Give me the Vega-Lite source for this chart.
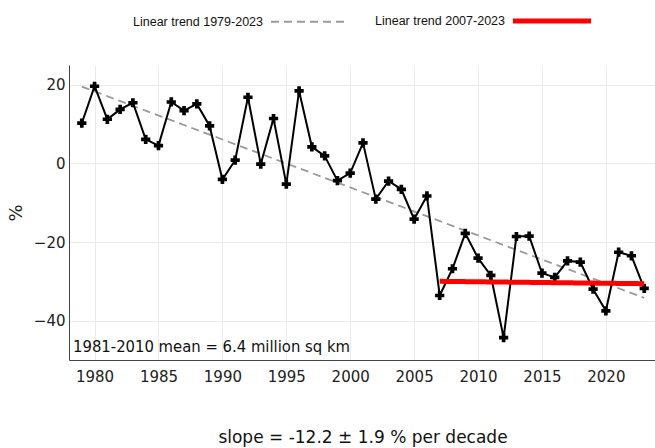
{
  "$schema": "https://vega.github.io/schema/vega-lite/v6.json",
  "width": 588,
  "height": 295,
  "autosize": {"type": "none"},
  "padding": {"left": 69, "top": 65, "right": 0, "bottom": 88},
  "background": "white",
  "config": {"view": {"stroke": null}, "font": "DejaVu Sans"},
  "title": {"text": "slope = -12.2 ± 1.9 % per decade", "orient": "bottom", "anchor": "middle", "font": "DejaVu Sans", "fontSize": 17, "fontWeight": "normal", "color": "#111", "offset": 46},
  "datasets": {
    "ice": [
      {"year": 1979, "value": 10.2}, {"year": 1980, "value": 19.6}, {"year": 1981, "value": 11.2},
      {"year": 1982, "value": 13.7}, {"year": 1983, "value": 15.4}, {"year": 1984, "value": 6.1},
      {"year": 1985, "value": 4.5}, {"year": 1986, "value": 15.6}, {"year": 1987, "value": 13.4},
      {"year": 1988, "value": 15.1}, {"year": 1989, "value": 9.5}, {"year": 1990, "value": -4.1},
      {"year": 1991, "value": 0.8}, {"year": 1992, "value": 16.8}, {"year": 1993, "value": -0.2},
      {"year": 1994, "value": 11.4}, {"year": 1995, "value": -5.3}, {"year": 1996, "value": 18.4},
      {"year": 1997, "value": 4.2}, {"year": 1998, "value": 1.9}, {"year": 1999, "value": -4.4},
      {"year": 2000, "value": -2.5}, {"year": 2001, "value": 5.2}, {"year": 2002, "value": -9.1},
      {"year": 2003, "value": -4.5}, {"year": 2004, "value": -6.6}, {"year": 2005, "value": -14.2},
      {"year": 2006, "value": -8.3}, {"year": 2007, "value": -33.6}, {"year": 2008, "value": -26.8},
      {"year": 2009, "value": -17.8}, {"year": 2010, "value": -24.1}, {"year": 2011, "value": -28.5},
      {"year": 2012, "value": -44.3}, {"year": 2013, "value": -18.6}, {"year": 2014, "value": -18.5},
      {"year": 2015, "value": -27.9}, {"year": 2016, "value": -29.0}, {"year": 2017, "value": -24.8},
      {"year": 2018, "value": -25.1}, {"year": 2019, "value": -32.0}, {"year": 2020, "value": -37.5},
      {"year": 2021, "value": -22.6}, {"year": 2022, "value": -23.5}, {"year": 2023, "value": -31.8}
    ],
    "trends": [
      {"trend": "Linear trend 1979-2023", "year": 1979, "value": 19.5},
      {"trend": "Linear trend 1979-2023", "year": 2023, "value": -34.2},
      {"trend": "Linear trend 2007-2023", "year": 2007, "value": -30.0},
      {"trend": "Linear trend 2007-2023", "year": 2023, "value": -30.6}
    ],
    "note": [
      {"label": "1981-2010 mean = 6.4 million sq km", "year": 1978, "value": -50}
    ]
  },
  "encoding": {
    "x": {
      "field": "year", "type": "quantitative",
      "scale": {"domain": [1978, 2024], "nice": false, "zero": false},
      "axis": {"title": null, "values": [1980, 1985, 1990, 1995, 2000, 2005, 2010, 2015, 2020], "format": "d",
               "grid": true, "gridColor": "#ebebeb", "domainColor": "#444", "ticks": false,
               "labelFont": "DejaVu Sans", "labelFontSize": 15, "labelColor": "#222", "labelPadding": 9}
    },
    "y": {
      "field": "value", "type": "quantitative",
      "scale": {"domain": [-50, 25], "nice": false, "zero": false},
      "axis": {"title": "%", "values": [-40, -20, 0, 20],
               "grid": true, "gridColor": "#ebebeb", "domainColor": "#444", "ticks": false,
               "labelFont": "DejaVu Sans", "labelFontSize": 15, "labelColor": "#222", "labelPadding": 4,
               "titleFont": "DejaVu Sans", "titleFontSize": 18, "titleFontWeight": "normal", "titleColor": "#222", "titlePadding": 8}
    }
  },
  "layer": [
    {
      "data": {"name": "trends"},
      "transform": [{"filter": "datum.trend == 'Linear trend 1979-2023'"}],
      "mark": {"type": "line"},
      "encoding": {
        "color": {"field": "trend", "type": "nominal",
                  "scale": {"domain": ["Linear trend 1979-2023", "Linear trend 2007-2023"], "range": ["#9a9a9a", "#ff0000"]},
                  "legend": {"title": null, "orient": "none", "legendX": 199, "legendY": -86, "direction": "horizontal", "columns": 2,
                             "symbolType": "stroke", "symbolSize": 6100, "labelAlign": "right", "labelOffset": -89,
                             "labelFont": "Liberation Sans", "labelFontSize": 12.5, "labelColor": "#111", "columnPadding": 22}},
        "strokeDash": {"field": "trend", "type": "nominal",
                       "scale": {"domain": ["Linear trend 1979-2023", "Linear trend 2007-2023"], "range": [[8, 5], [1, 0]]}},
        "strokeWidth": {"field": "trend", "type": "ordinal",
                        "scale": {"domain": ["Linear trend 1979-2023", "Linear trend 2007-2023"], "range": [1.8, 5]}}
      }
    },
    {
      "data": {"name": "ice"},
      "mark": {"type": "line", "color": "black", "strokeWidth": 2}
    },
    {
      "data": {"name": "ice"},
      "mark": {"type": "point", "shape": "cross", "filled": true, "color": "black", "size": 85, "opacity": 1}
    },
    {
      "data": {"name": "trends"},
      "transform": [{"filter": "datum.trend == 'Linear trend 2007-2023'"}],
      "mark": {"type": "line"},
      "encoding": {
        "color": {"field": "trend", "type": "nominal"},
        "strokeDash": {"field": "trend", "type": "nominal"},
        "strokeWidth": {"field": "trend", "type": "ordinal"}
      }
    },
    {
      "data": {"name": "note"},
      "mark": {"type": "text", "align": "left", "baseline": "alphabetic", "dx": 4, "dy": -8, "font": "DejaVu Sans Condensed", "fontSize": 16.5, "color": "#111"},
      "encoding": {"text": {"field": "label"}}
    }
  ]
}
